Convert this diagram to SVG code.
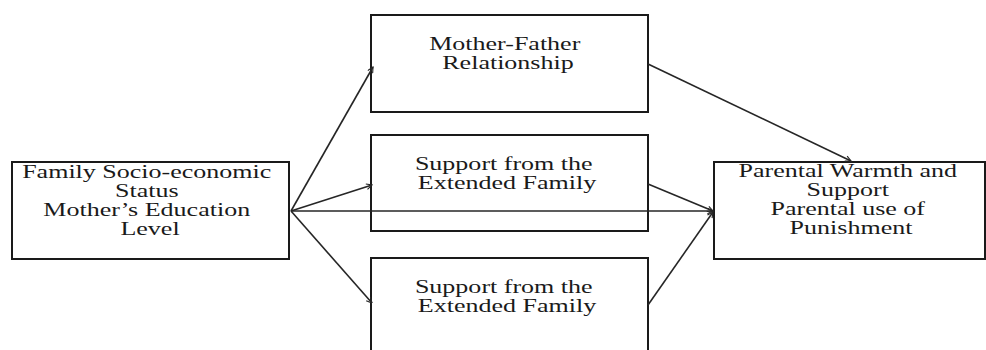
<svg xmlns="http://www.w3.org/2000/svg" width="986" height="350" viewBox="0 0 986 350">
  <style>
    .box { fill: #ffffff; stroke: #1a1a1a; stroke-width: 2; }
    .lbl { font-family: "Liberation Serif", "Times New Roman", serif; font-size: 19px; fill: #1a1a1a; text-anchor: middle; }
    .edge { fill: none; stroke: #262626; stroke-width: 1.6; marker-end: url(#arrow); }
  </style>
  <defs>
    <marker id="arrow" viewBox="0 0 10 10" refX="9" refY="5" markerWidth="7" markerHeight="7" markerUnits="userSpaceOnUse" orient="auto">
      <path d="M1,1 L9,5 L1,9" fill="none" stroke="#262626" stroke-width="1.6"/>
    </marker>
  </defs>
  <rect width="986" height="350" fill="#ffffff"/>

  <g id="node-ses">
    <rect class="box" x="12" y="162" width="277" height="97"/>
    <text class="lbl" transform="matrix(1.37 0 0 1 150 0)">
      <tspan x="0" y="178">Family Socio-economic</tspan>
      <tspan x="0" y="197">Status</tspan>
      <tspan x="0" y="216">Mother’s Education</tspan>
      <tspan x="0" y="235">Level</tspan>
    </text>
  </g>

  <g id="node-relationship">
    <rect class="box" x="371" y="15" width="277" height="97"/>
    <text class="lbl" transform="matrix(1.37 0 0 1 508 0)">
      <tspan x="0" y="50">Mother-Father</tspan>
      <tspan x="0" y="69">Relationship</tspan>
    </text>
  </g>

  <g id="node-support-1">
    <rect class="box" x="371" y="135" width="277" height="96"/>
    <text class="lbl" transform="matrix(1.37 0 0 1 507 0)">
      <tspan x="0" y="170">Support from the</tspan>
      <tspan x="0" y="189">Extended Family</tspan>
    </text>
  </g>

  <g id="node-support-2">
    <rect class="box" x="371" y="258" width="277" height="100"/>
    <text class="lbl" transform="matrix(1.37 0 0 1 507 0)">
      <tspan x="0" y="293">Support from the</tspan>
      <tspan x="0" y="312">Extended Family</tspan>
    </text>
  </g>

  <g id="node-parenting">
    <rect class="box" x="714" y="162" width="271" height="97"/>
    <text class="lbl" transform="matrix(1.37 0 0 1 851 0)">
      <tspan x="0" y="177">Parental Warmth and</tspan>
      <tspan x="0" y="196">Support</tspan>
      <tspan x="0" y="215">Parental use of</tspan>
      <tspan x="0" y="234">Punishment</tspan>
    </text>
  </g>

  <g id="connectors">
    <line class="edge" x1="291" y1="211" x2="373" y2="67"/>
    <line class="edge" x1="291" y1="211" x2="372" y2="185"/>
    <line class="edge" x1="291" y1="211" x2="372" y2="303"/>
    <line class="edge" x1="291" y1="211" x2="713" y2="211"/>
    <line class="edge" x1="648" y1="64" x2="851" y2="161"/>
    <line class="edge" x1="648" y1="184" x2="713" y2="211"/>
    <line class="edge" x1="648" y1="305" x2="713" y2="212"/>
  </g>
</svg>
